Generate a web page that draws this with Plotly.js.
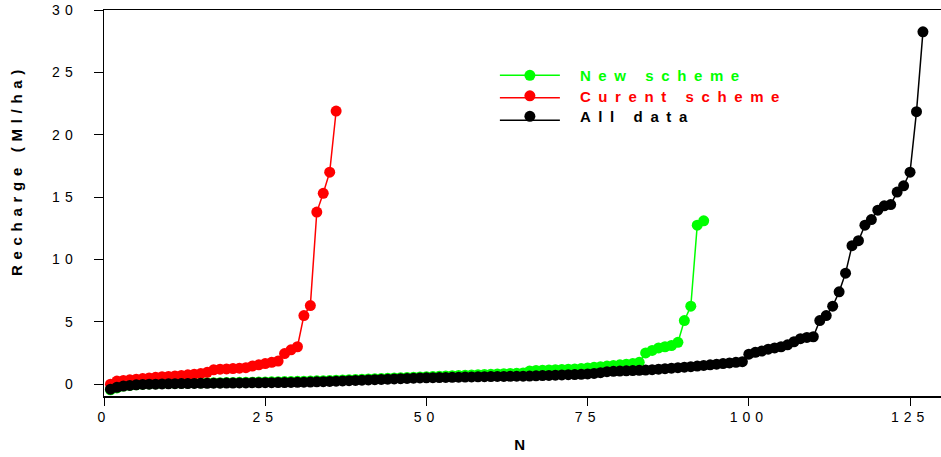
<!DOCTYPE html>
<html>
<head>
<meta charset="utf-8">
<script src="https://cdn.plot.ly/plotly-3.0.1.min.js"></script>
<style>
  html, body { margin: 0; padding: 0; background: #fff; }
  #chart { width: 941px; height: 457px; }
  .xtick text, .ytick text { letter-spacing: 5px; }
  .g-ytitle text, .g-xtitle text { letter-spacing: 5.7px; }
  .g-ytitle { transform: translate(-6px, -33px); }
  .legendtext { letter-spacing: 7.6px; transform: translateX(15px); }
  .legend .scrollbox { clip-path: none !important; }
  .legend .groups:nth-child(2) .traces .legendsymbols,
  .legend .traces:nth-child(2) .legendsymbols { transform: translateY(-2px); }
  .legend .groups:nth-child(2) .traces .legendtext,
  .legend .traces:nth-child(2) .legendtext { transform: translate(15px, -2px); }
  .legend .groups:nth-child(3) .traces .legendsymbols,
  .legend .traces:nth-child(3) .legendsymbols { transform: translateY(-4px); }
  .legend .groups:nth-child(3) .traces .legendtext,
  .legend .traces:nth-child(3) .legendtext { transform: translate(15px, -4px); }
</style>
</head>
<body>
<div id="chart"></div>
<script>
// ---- data ----
const newSchemeValues = [
  -0.45, -0.3, -0.15, -0.1, -0.05, 0.0, 0.02, 0.03, 0.05, 0.06,
  0.07, 0.08, 0.09, 0.1, 0.1, 0.11, 0.12, 0.12, 0.13, 0.14,
  0.15, 0.15, 0.16, 0.17, 0.18, 0.19, 0.2, 0.21, 0.22, 0.23,
  0.24, 0.25, 0.27, 0.28, 0.3, 0.32, 0.34, 0.36, 0.38, 0.4,
  0.42, 0.44, 0.46, 0.48, 0.5, 0.52, 0.54, 0.56, 0.58, 0.6,
  0.62, 0.64, 0.66, 0.68, 0.7, 0.72, 0.74, 0.76, 0.78, 0.8,
  0.82, 0.84, 0.86, 0.88, 0.9, 1.05, 1.1, 1.12, 1.14, 1.16,
  1.18, 1.2, 1.22, 1.25, 1.3, 1.35, 1.4, 1.45, 1.5, 1.55,
  1.6, 1.65, 1.75, 2.5, 2.7, 2.9, 3.0, 3.1, 3.35, 5.1,
  6.25, 12.75, 13.1
];
const currentSchemeValues = [
  0.0, 0.25, 0.3, 0.35, 0.4, 0.45, 0.5, 0.55, 0.6, 0.62,
  0.66, 0.7, 0.75, 0.8, 0.85, 0.95, 1.15, 1.2, 1.22, 1.25,
  1.28, 1.32, 1.45, 1.55, 1.65, 1.75, 1.85, 2.45, 2.75, 3.0,
  5.5, 6.3, 13.8, 15.3, 17.0, 21.9
];
const allDataValues = [
  -0.4, -0.25, -0.15, -0.1, -0.05, -0.02, 0.0, 0.0, 0.02, 0.03,
  0.04, 0.05, 0.05, 0.06, 0.07, 0.07, 0.08, 0.08, 0.09, 0.09,
  0.1, 0.1, 0.11, 0.11, 0.12, 0.12, 0.13, 0.13, 0.14, 0.15,
  0.16, 0.17, 0.19, 0.2, 0.22, 0.24, 0.26, 0.28, 0.3, 0.32,
  0.34, 0.36, 0.38, 0.4, 0.42, 0.44, 0.46, 0.48, 0.5, 0.51,
  0.52, 0.53, 0.54, 0.55, 0.56, 0.57, 0.58, 0.59, 0.6, 0.61,
  0.62, 0.62, 0.63, 0.64, 0.64, 0.65, 0.67, 0.69, 0.7, 0.72,
  0.74, 0.76, 0.77, 0.79, 0.82, 0.86, 0.92, 1.0, 1.03, 1.05,
  1.07, 1.09, 1.11, 1.13, 1.16, 1.2, 1.24, 1.28, 1.32, 1.36,
  1.4, 1.45, 1.5, 1.55, 1.6, 1.65, 1.7, 1.75, 1.8, 2.4,
  2.55, 2.65, 2.8, 2.9, 3.0, 3.15, 3.4, 3.65, 3.75, 3.8,
  5.1, 5.5, 6.25, 7.4, 8.9, 11.1, 11.5, 12.75, 13.2, 13.95,
  14.3, 14.4, 15.4, 15.9, 17.0, 21.85, 28.25
];
const seriesNames = ['New scheme', 'Curent scheme', 'All data'];
const seriesColors = ['#00ff00', '#ff0000', '#000000'];
const xTickValues = [0, 25, 50, 75, 100, 125];
const yTickValues = [0, 5, 10, 15, 20, 25, 30];
const xTitle = 'N';
const yTitle = 'Recharge (Ml/ha)';

const rank = arr => arr.map((_, i) => i + 1);
const seriesValues = [newSchemeValues, currentSchemeValues, allDataValues];

const FONT = '"Liberation Sans", Arial, Helvetica, sans-serif';

const traces = seriesValues.map((vals, k) => ({
  type: 'scatter',
  mode: 'lines+markers',
  x: rank(vals),
  y: vals,
  name: '<span style="color:' + seriesColors[k] + '">' + seriesNames[k] + '</span>',
  line: { color: seriesColors[k], width: 1.5 },
  marker: { color: seriesColors[k], size: 11, line: { width: 0 } }
}));

const layout = {
  width: 941,
  height: 457,
  margin: { l: 104, r: 0, t: 10, b: 61 },
  paper_bgcolor: '#ffffff',
  plot_bgcolor: '#ffffff',
  font: { family: FONT, color: '#000000' },
  showlegend: true,
  legend: {
    x: 0.467, y: 0.873, xanchor: 'left', yanchor: 'top',
    bgcolor: 'rgba(0,0,0,0)',
    font: { family: FONT, size: 15, weight: 'bold' },
    itemwidth: 60,
    tracegroupgap: 0
  },
  xaxis: {
    range: [0, 129.8],
    tickvals: xTickValues,
    ticktext: xTickValues.map(String),
    ticks: 'outside', ticklen: 8, tickwidth: 1, tickcolor: '#000',
    showline: true, linecolor: '#000', linewidth: 1.5,
    mirror: true,
    showgrid: false, zeroline: false,
    tickfont: { family: FONT, size: 14, color: '#000' },
    title: { text: xTitle, font: { family: FONT, size: 15, weight: 'bold' }, standoff: 15 }
  },
  yaxis: {
    range: [-0.95, 30],
    tickvals: yTickValues,
    ticktext: yTickValues.map(String),
    ticks: 'outside', ticklen: 9, tickwidth: 1, tickcolor: '#000',
    showline: true, linecolor: '#000', linewidth: 1.5,
    showgrid: false, zeroline: false,
    tickfont: { family: FONT, size: 14, color: '#000' },
    ticklabelstandoff: 13,
    title: { text: yTitle, font: { family: FONT, size: 15, weight: 'bold' }, standoff: 20 }
  }
};

Plotly.newPlot('chart', traces, layout, { displayModeBar: false, staticPlot: true });
</script>
</body>
</html>
